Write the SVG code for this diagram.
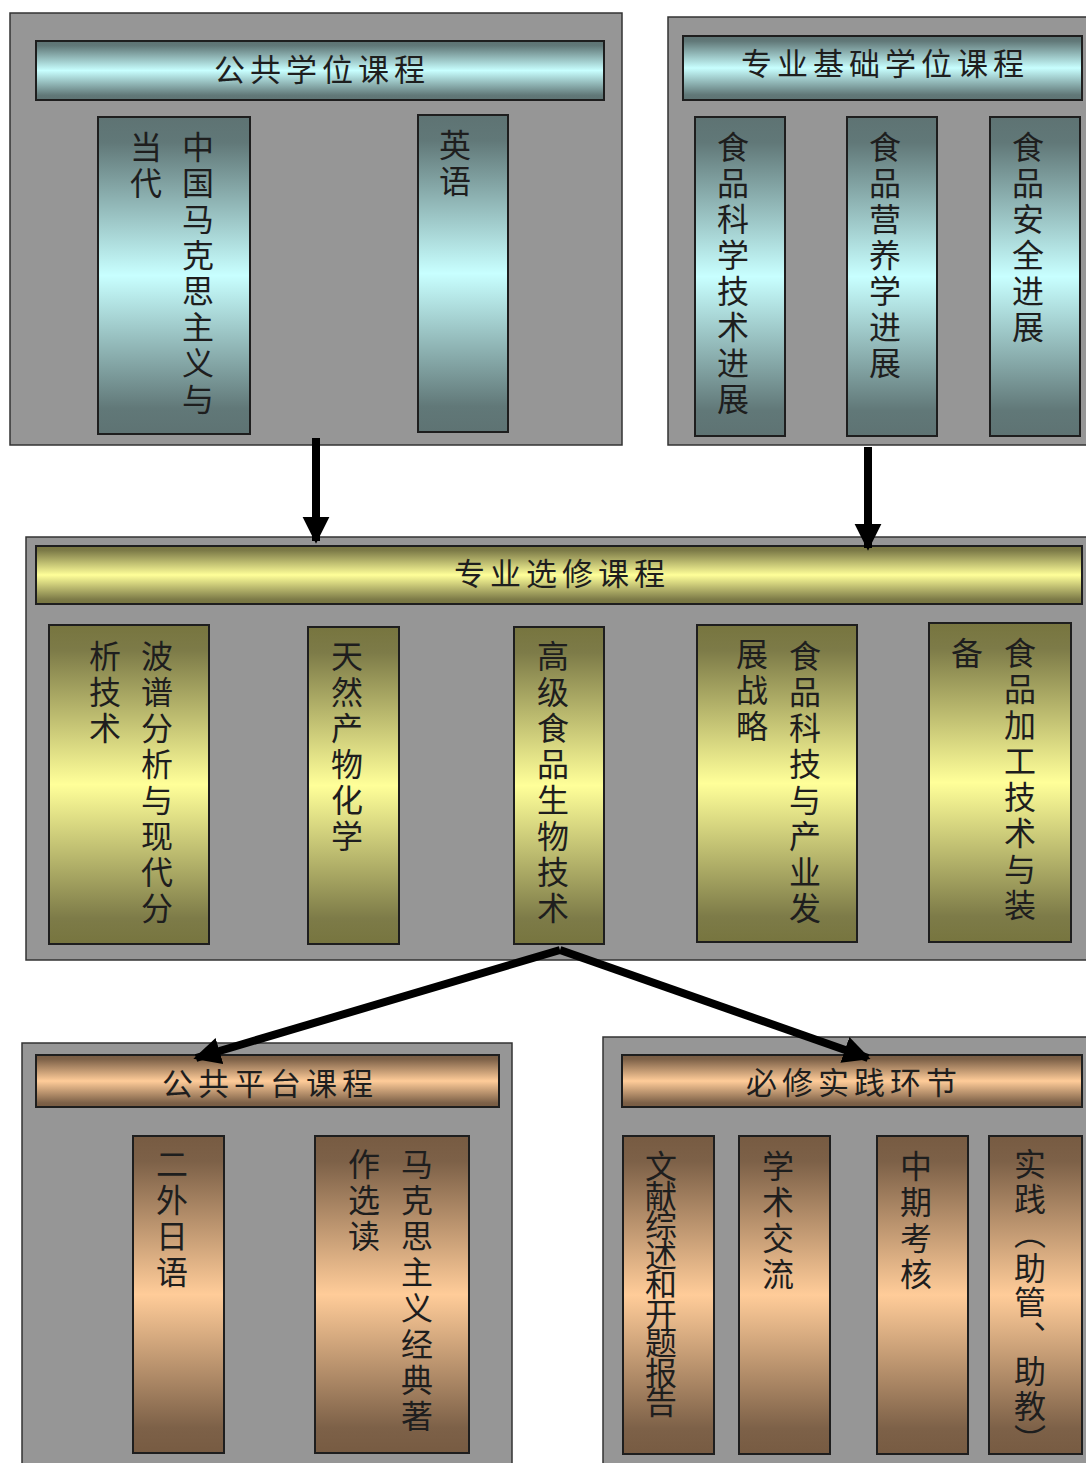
<svg xmlns="http://www.w3.org/2000/svg" width="1086" height="1463" viewBox="0 0 1086 1463">
<defs>
<linearGradient id="gc" x1="0" y1="0" x2="0" y2="1">
<stop offset="0" stop-color="#5e7373"/><stop offset="0.08" stop-color="#617878"/><stop offset="0.5" stop-color="#c8ffff"/><stop offset="0.92" stop-color="#617878"/><stop offset="1" stop-color="#5e7373"/>
</linearGradient>
<linearGradient id="gy" x1="0" y1="0" x2="0" y2="1">
<stop offset="0" stop-color="#77753f"/><stop offset="0.08" stop-color="#7d7b48"/><stop offset="0.5" stop-color="#ffff99"/><stop offset="0.92" stop-color="#7d7b48"/><stop offset="1" stop-color="#77753f"/>
</linearGradient>
<linearGradient id="go" x1="0" y1="0" x2="0" y2="1">
<stop offset="0" stop-color="#775b42"/><stop offset="0.08" stop-color="#7d6148"/><stop offset="0.5" stop-color="#ffcc99"/><stop offset="0.92" stop-color="#7d6148"/><stop offset="1" stop-color="#775b42"/>
</linearGradient>
<marker id="ah" viewBox="0 0 10 10" refX="9" refY="5" markerWidth="3.4" markerHeight="3.4" orient="auto" markerUnits="strokeWidth">
<path d="M0,0 L10,5 L0,10 z" fill="#000"/>
</marker>
</defs>
<style>
.panel{fill:#969696;stroke:#333;stroke-width:1.5}
.box{stroke:#1e1e1e;stroke-width:2}
.c{fill:url(#gc)}
.y{fill:url(#gy)}
.o{fill:url(#go)}
text{font-family:"Noto Sans CJK SC","Noto Sans CJK JP",sans-serif;fill:#1e1e1e}
.h{font-size:31px;letter-spacing:5px;text-anchor:middle}
.v{font-size:32px;letter-spacing:4px;writing-mode:vertical-rl}
.conn{stroke:#000;stroke-width:8;fill:none}
</style>

<g id="panel-public-degree">
<rect class="panel" x="10" y="13" width="612" height="432"/>
<rect class="box c" x="36" y="41" width="568" height="59"/>
<text class="h" x="322" y="81">公共学位课程</text>
<rect class="box c" x="98" y="117" width="152" height="317"/>
<text class="v" x="198" y="131">中国马克思主义与</text>
<text class="v" x="146" y="131">当代</text>
<rect class="box c" x="418" y="115" width="90" height="317"/>
<text class="v" x="455" y="129">英语</text>
</g>

<g id="panel-basic-degree">
<rect class="panel" x="668" y="17" width="425" height="428"/>
<rect class="box c" x="683" y="36" width="399" height="64"/>
<text class="h" x="885" y="75">专业基础学位课程</text>
<rect class="box c" x="695" y="117" width="90" height="319"/>
<text class="v" x="733" y="131">食品科学技术进展</text>
<rect class="box c" x="847" y="117" width="90" height="319"/>
<text class="v" x="885" y="131">食品营养学进展</text>
<rect class="box c" x="990" y="117" width="90" height="319"/>
<text class="v" x="1028" y="131">食品安全进展</text>
</g>

<g id="panel-elective">
<rect class="panel" x="26" y="537" width="1070" height="423"/>
<rect class="box y" x="36" y="546" width="1046" height="58"/>
<text class="h" x="562" y="585">专业选修课程</text>
<rect class="box y" x="49" y="625" width="160" height="319"/>
<text class="v" x="157" y="640">波谱分析与现代分</text>
<text class="v" x="105" y="640">析技术</text>
<rect class="box y" x="308" y="627" width="91" height="317"/>
<text class="v" x="347" y="640">天然产物化学</text>
<rect class="box y" x="514" y="627" width="90" height="317"/>
<text class="v" x="553" y="640">高级食品生物技术</text>
<rect class="box y" x="697" y="625" width="160" height="317"/>
<text class="v" x="805" y="640">食品科技与产业发</text>
<text class="v" x="752" y="638">展战略</text>
<rect class="box y" x="929" y="623" width="142" height="319"/>
<text class="v" x="1020" y="637">食品加工技术与装</text>
<text class="v" x="967" y="637">备</text>
</g>

<g id="panel-public-platform">
<rect class="panel" x="22" y="1043" width="490" height="430"/>
<rect class="box o" x="36" y="1055" width="463" height="52"/>
<text class="h" x="270" y="1095">公共平台课程</text>
<rect class="box o" x="133" y="1136" width="91" height="317"/>
<text class="v" x="172" y="1148">二外日语</text>
<rect class="box o" x="315" y="1136" width="154" height="317"/>
<text class="v" x="417" y="1148">马克思主义经典著</text>
<text class="v" x="364" y="1148">作选读</text>
</g>

<g id="panel-practice">
<rect class="panel" x="603" y="1037" width="493" height="436"/>
<rect class="box o" x="622" y="1055" width="460" height="52"/>
<text class="h" x="854" y="1094">必修实践环节</text>
<rect class="box o" x="623" y="1136" width="91" height="318"/>
<text class="v" x="661" y="1150" style="letter-spacing:-2.5px">文献综述和开题报告</text>
<rect class="box o" x="739" y="1136" width="91" height="318"/>
<text class="v" x="778" y="1150">学术交流</text>
<rect class="box o" x="877" y="1136" width="91" height="318"/>
<text class="v" x="916" y="1150">中期考核</text>
<rect class="box o" x="989" y="1136" width="93" height="318"/>
<text class="v" x="1030" y="1148" style="letter-spacing:2.5px">实践（助管、助教）</text>
</g>

<g id="connectors">
<line class="conn" x1="316" y1="438" x2="316" y2="541" marker-end="url(#ah)"/>
<line class="conn" x1="868" y1="447" x2="868" y2="548" marker-end="url(#ah)"/>
<line class="conn" x1="560" y1="950" x2="196" y2="1058" marker-end="url(#ah)"/>
<line class="conn" x1="560" y1="950" x2="868" y2="1058" marker-end="url(#ah)"/>
</g>
</svg>
